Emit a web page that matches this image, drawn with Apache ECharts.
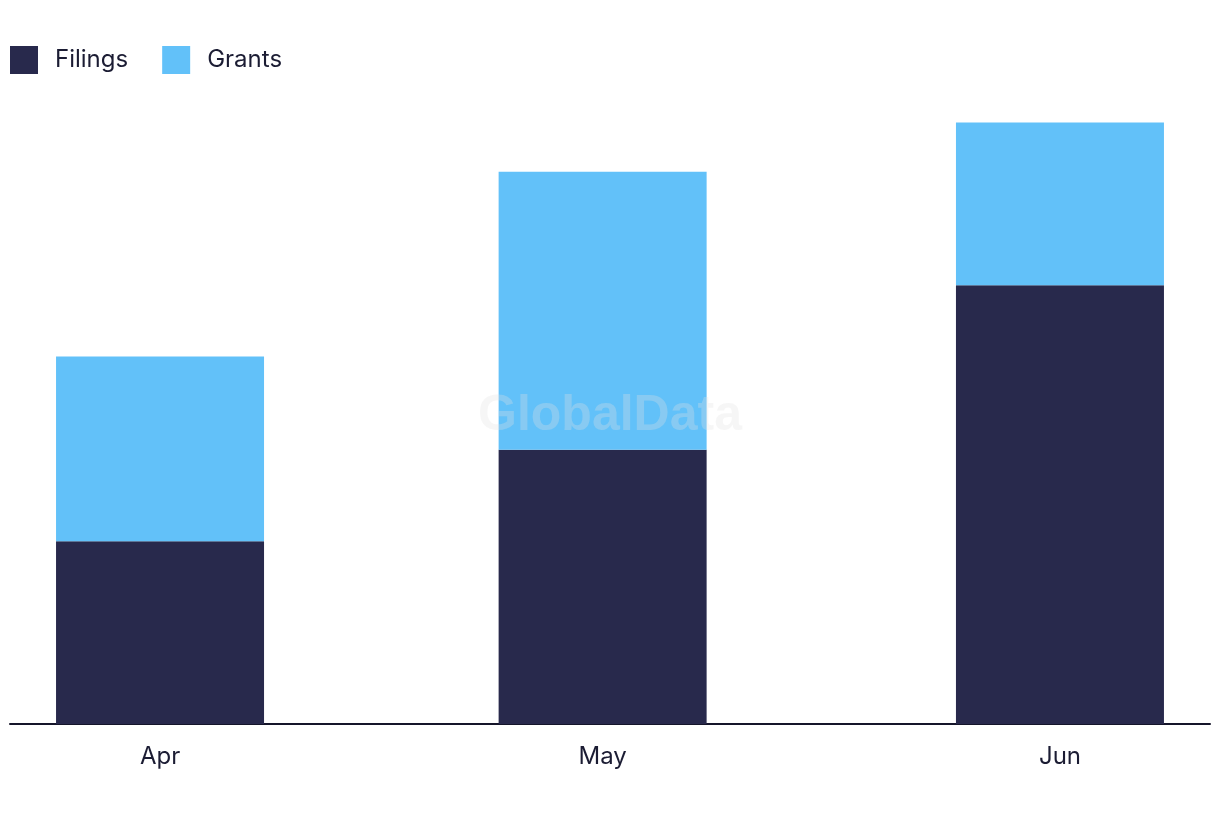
<!DOCTYPE html>
<html>
<head>
<meta charset="utf-8">
<script src="https://cdn.jsdelivr.net/npm/echarts@6/dist/echarts.min.js"></script>
<style>
html,body{margin:0;padding:0;background:#fff;}
#chart{width:1220px;height:822px;}
</style>
</head>
<body>
<div id="chart"></div>
<script>
// Data
var months = ['2024-04-01', '2024-05-01', '2024-06-01'];
var monthLabels = ['Apr', 'May', 'Jun'];
var filings = [10, 15, 24];
var grants = [10.1, 15.2, 8.9];
var seriesNames = ['Filings', 'Grants'];

var DAY = 86400000;
var ts = months.map(function (m) { return new Date(m + 'T00:00:00Z').getTime(); });

// layout
var CHART_W = 1220, GRID_L = 10, GRID_R = 10, BAR_W = 208;
var axisLen = CHART_W - GRID_L - GRID_R;
var visPad = 10.17 * DAY;                       // visible margin around first/last month
var xMin = ts[0] - visPad;
var xMax = ts[ts.length - 1] + visPad;
// ECharts widens a time base-axis by the bar overflow; pre-shrink so the final range equals [xMin, xMax]
var innerRange = (xMax - xMin) * (1 - BAR_W / axisLen);
var tPad = (innerRange - (ts[ts.length - 1] - ts[0])) / 2;

var chart = echarts.init(document.getElementById('chart'), null, { renderer: 'canvas' });
var font = 'Inter, "Noto Sans", sans-serif';

function makeSeries(name, values, color) {
  return {
    name: name,
    type: 'bar',
    stack: 'total',
    barWidth: BAR_W,
    xAxisIndex: 0,
    itemStyle: { color: color },
    data: ts.map(function (t, i) { return [t, values[i]]; })
  };
}

chart.setOption({
  animation: false,
  backgroundColor: '#ffffff',
  textStyle: { fontFamily: font },
  legend: {
    left: 10,
    top: 46,
    padding: 0,
    itemWidth: 28,
    itemHeight: 28,
    itemGap: 34,
    icon: 'rect',
    textStyle: { fontFamily: font, fontSize: 24, color: '#1b1c33', padding: [0, 0, 0, 12] },
    data: seriesNames
  },
  graphic: [{
    type: 'text',
    left: 'center',
    top: 391,
    z: 100,
    silent: true,
    style: {
      text: 'GlobalData',
      font: 'bold 50px "Liberation Sans", Arial, sans-serif',
      fill: 'rgba(225,225,225,0.3)'
    }
  }],
  grid: { left: GRID_L, right: GRID_R, top: 84, bottom: 98, containLabel: false },
  xAxis: [
    {
      type: 'time',
      min: ts[0] - tPad,
      max: ts[ts.length - 1] + tPad,
      position: 'bottom',
      axisLine: { show: true, onZero: false, lineStyle: { color: '#15152a', width: 2 } },
      axisTick: { show: false },
      axisLabel: { show: false },
      splitLine: { show: false }
    },
    {
      type: 'value',
      min: xMin,
      max: xMax,
      position: 'bottom',
      axisLine: { show: false },
      axisTick: { show: false },
      splitLine: { show: false },
      axisLabel: {
        customValues: ts,
        margin: 21,
        fontSize: 24,
        fontFamily: font,
        color: '#1b1c33',
        formatter: function (v) {
          for (var i = 0; i < ts.length; i++) {
            if (Math.abs(ts[i] - v) < 1000) return monthLabels[i];
          }
          return '';
        }
      }
    }
  ],
  yAxis: {
    type: 'value',
    min: 0,
    max: 35,
    show: false,
    splitLine: { show: false }
  },
  series: [
    makeSeries(seriesNames[0], filings, '#28294c'),
    makeSeries(seriesNames[1], grants, '#62c1f9')
  ]
});
</script>
</body>
</html>
